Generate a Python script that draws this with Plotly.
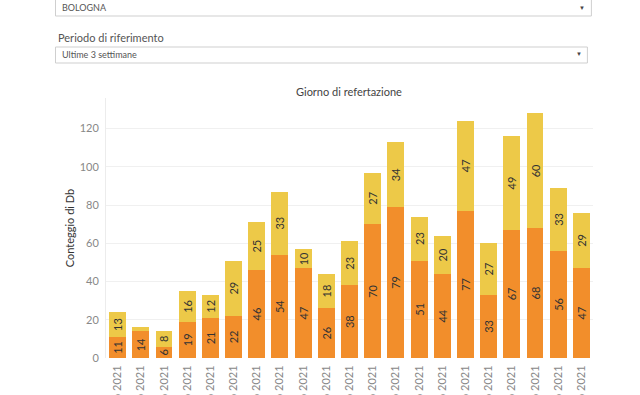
import plotly.graph_objects as go

# ---- data ----
dates = [f"{d} febbraio 2021" for d in range(8, 29)]
orange_vals = [11, 14, 6, 19, 21, 22, 46, 54, 47, 26, 38, 70, 79, 51, 44, 77, 33, 67, 68, 56, 47]
yellow_vals = [13, 2, 8, 16, 12, 29, 25, 33, 10, 18, 23, 27, 34, 23, 20, 47, 27, 49, 60, 33, 29]
yellow_labels = ["13", "", "8", "16", "12", "29", "25", "33", "10", "18", "23", "27", "34", "23", "20", "47", "27", "49", "60", "33", "29"]
y_ticks = [0, 20, 40, 60, 80, 100, 120]

ORANGE = "#F28E2B"
YELLOW = "#EDC948"
FONT = "Lato"

W, H = 640, 395
PL, PR, PT, PB = 106.4, 592.6, 98, 358   # plot area in window pixels
L = PL
R = W - PR
T = PT
B = H - PB
pw, ph = W - L - R, H - T - B


def px(x):
    return (x - L) / pw


def py(y):
    return (H - B - y) / ph


fig = go.Figure()
fig.add_trace(go.Bar(
    x=dates, y=orange_vals, marker=dict(color=ORANGE, line=dict(width=0)),
    text=[str(v) for v in orange_vals], textposition="inside", textangle=-90,
    insidetextanchor="middle", textfont=dict(color="#333333", size=11, family=FONT),
    hoverinfo="skip", showlegend=False,
))
fig.add_trace(go.Bar(
    x=dates, y=yellow_vals, marker=dict(color=YELLOW, line=dict(width=0)),
    text=yellow_labels, textposition="inside", textangle=-90,
    insidetextanchor="middle", textfont=dict(color="#333333", size=11, family=FONT),
    hoverinfo="skip", showlegend=False,
))

fig.update_layout(
    width=W, height=H,
    margin=dict(l=L, r=R, t=T, b=B, autoexpand=False),
    barmode="stack", bargap=0.27,
    plot_bgcolor="white", paper_bgcolor="white",
    font=dict(family=FONT, color="#555555"),
    uniformtext=dict(minsize=11, mode="show"),
    xaxis=dict(
        type="category", tickangle=-90, showgrid=False, zeroline=False,
        tickfont=dict(size=11, color="#888888", family=FONT),
        ticks="outside", ticklen=2, tickcolor="rgba(0,0,0,0)",
        automargin=False, range=[-0.5, 20.5],
    ),
    yaxis=dict(
        range=[0, 136], tickvals=y_ticks, showgrid=True, gridcolor="#f0f0f0",
        zeroline=False, showline=True, linecolor="#ececec",
        tickfont=dict(size=11, color="#888888", family=FONT),
        ticks="outside", ticklen=4, tickcolor="rgba(0,0,0,0)",
        title=dict(text="Conteggio di Db", font=dict(size=11, color="#333333", family=FONT), standoff=2),
        automargin=False,
    ),
)

# chart header
fig.add_annotation(text="Giorno di refertazione", xref="paper", yref="paper",
                   x=px(349), y=py(91), xanchor="center", yanchor="middle", showarrow=False,
                   font=dict(size=11, color="#444444", family=FONT))

# filter controls (dropdowns)
shape_style = dict(type="rect", xref="paper", yref="paper", line=dict(color="#cfcfcf", width=1),
                   fillcolor="white", layer="above")
fig.add_shape(x0=px(56), x1=px(591), y0=py(-2), y1=py(16), **shape_style)
fig.add_shape(x0=px(56), x1=px(587), y0=py(47), y1=py(63), **shape_style)

fig.add_annotation(text="BOLOGNA", xref="paper", yref="paper", x=px(60), y=py(8),
                   xanchor="left", yanchor="middle", showarrow=False,
                   font=dict(size=9, color="#555555", family=FONT))
fig.add_annotation(text="▼", xref="paper", yref="paper", x=px(582), y=py(8),
                   xanchor="center", yanchor="middle", showarrow=False,
                   font=dict(size=6, color="#444444", family=FONT))
fig.add_annotation(text="Periodo di riferimento", xref="paper", yref="paper", x=px(56), y=py(38),
                   xanchor="left", yanchor="middle", showarrow=False,
                   font=dict(size=11, color="#555555", family=FONT))
fig.add_annotation(text="Ultime 3 settimane", xref="paper", yref="paper", x=px(60), y=py(55),
                   xanchor="left", yanchor="middle", showarrow=False,
                   font=dict(size=9, color="#555555", family=FONT))
fig.add_annotation(text="▼", xref="paper", yref="paper", x=px(579), y=py(54),
                   xanchor="center", yanchor="middle", showarrow=False,
                   font=dict(size=6, color="#444444", family=FONT))

# remove the page's default body margin so the figure sits at the window origin
fig.write_html("out.html", config={"displayModeBar": False},
               post_script="document.body.style.margin='0';")
